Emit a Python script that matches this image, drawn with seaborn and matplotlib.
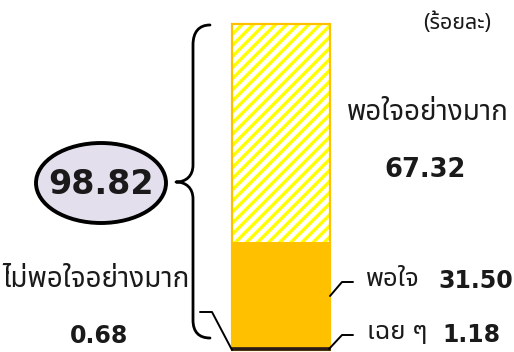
import matplotlib
matplotlib.use('Agg')
import matplotlib.pyplot as plt
from matplotlib.path import Path
from matplotlib.patches import PathPatch, Ellipse
import numpy as np
import pandas as pd
import seaborn as sns

# ---- data (bottom -> top) ----
categories = ["ไม่พอใจอย่างมาก", "เฉย ๆ", "พอใจ", "พอใจอย่างมาก"]
values = [0.68, 1.18, 31.50, 67.32]
colors = ["#2A1A16", "#FFC000", "#FFC000", "#FFFFFF"]
satisfied_total = 98.82
unit_label = "(ร้อยละ)"

sns.set_theme(style="white")
THAI = ["Noto Sans Thai", "Noto Sans", "DejaVu Sans"]
NUM = ["DejaVu Sans"]
plt.rcParams['font.family'] = THAI
plt.rcParams['hatch.linewidth'] = 2.4

W, H = 514, 352
fig = plt.figure(figsize=(W / 100, H / 100), dpi=100)
fig.patch.set_facecolor("white")

# bar axes (pixel placement)
bx0, bx1, by_top, by_bot = 232, 330, 24, 350
ax = fig.add_axes([bx0 / W, (H - by_bot) / H, (bx1 - bx0) / W, (by_bot - by_top) / H])
ax.set_facecolor("none")

cum = np.cumsum(values)
df = pd.DataFrame({"g": ["a"] * len(values), "cat": categories, "cum": cum})
n = len(values)

# top (hatched) segment: full cumulative bar
sns.barplot(data=df.iloc[[n - 1]], x="g", y="cum", color="white", width=1.0,
            saturation=1, ax=ax, errorbar=None)
p = ax.patches[-1]
p.set_facecolor("white")
p.set_hatch("///")
p.set_edgecolor("#FFFF00")
p.set_linewidth(0)
p.set_zorder(2)

# orange outline of the hatched segment
sns.barplot(data=df.iloc[[n - 1]], x="g", y="cum", color="#FFC000", width=1.0,
            fill=False, saturation=1, ax=ax, errorbar=None, linewidth=1.6)
q = ax.patches[-1]
q.set_edgecolor("#FFC000")
q.set_clip_on(False)
q.set_zorder(3)

# lower segments (cumulative, drawn largest first)
for i in range(n - 2, -1, -1):
    sns.barplot(data=df.iloc[[i]], x="g", y="cum", color=colors[i], width=1.0,
                saturation=1, ax=ax, errorbar=None)
    r = ax.patches[-1]
    r.set_zorder(4 + (n - i))
    if i == 0:
        r.set_edgecolor(colors[i])
        r.set_linewidth(1.2)
        r.set_clip_on(False)
    else:
        r.set_linewidth(0)

ax.set_xlim(-0.5, 0.5)
ax.set_ylim(0, cum[-1])
ax.set_axis_off()

# overlay in pixel coordinates for annotations
ov = fig.add_axes([0, 0, 1, 1])
ov.set_xlim(0, W)
ov.set_ylim(H, 0)
ov.set_axis_off()
ov.set_facecolor("none")

# curly brace
verts = [(210, 25), (199, 25), (193, 32), (193, 45),
         (193, 165),
         (193, 176), (186, 182), (176, 182),
         (186, 182), (193, 188), (193, 199),
         (193, 320),
         (193, 332), (199, 338), (210, 338)]
codes = [Path.MOVETO, Path.CURVE4, Path.CURVE4, Path.CURVE4,
         Path.LINETO,
         Path.CURVE4, Path.CURVE4, Path.CURVE4,
         Path.CURVE4, Path.CURVE4, Path.CURVE4,
         Path.LINETO,
         Path.CURVE4, Path.CURVE4, Path.CURVE4]
ov.add_patch(PathPatch(Path(verts, codes), fill=False, lw=2.0, color="black",
                       capstyle="round", joinstyle="round"))

# ellipse with total
ov.add_patch(Ellipse((101, 183), 130, 80, facecolor="#E4DFEC", edgecolor="black", lw=2.8))
ov.text(101, 184, f"{satisfied_total:.2f}", ha="center", va="center",
        fontsize=24, fontweight="bold", color="#1A1A1A", family=NUM)

# unit
ov.text(457, 23, unit_label, ha="center", va="center", fontsize=15.5, color="#1A1A1A")

TXT = dict(ha="center", va="center", fontsize=20, color="#1A1A1A")
SMALL = dict(ha="center", va="center", fontsize=18.5, color="#1A1A1A")
NUMK = dict(ha="center", va="center", fontsize=17, fontweight="bold",
            color="#1A1A1A", family=NUM)

# top segment label
ov.text(428, 113, categories[3], **TXT)
ov.text(425, 170, f"{values[3]:.2f}", **{**NUMK, "fontsize": 18.5})

# left label (very dissatisfied)
ov.text(96, 280, categories[0], **TXT)
ov.text(99, 336, f"{values[0]:.2f}", **NUMK)
ov.plot([200, 212, 232], [312, 312, 350], color="black", lw=1.4)

# right labels
ov.plot([330, 342, 353], [296, 282, 282], color="black", lw=1.4)
ov.text(393, 279, categories[2], **SMALL)
ov.text(476, 281, f"{values[2]:.2f}", **NUMK)

ov.plot([329, 342, 353], [349, 335, 335], color="black", lw=1.4)
ov.text(397, 333, categories[1], **SMALL)
ov.text(471, 335, f"{values[1]:.2f}", **NUMK)

fig.savefig("out.png", dpi=100, facecolor="white")
